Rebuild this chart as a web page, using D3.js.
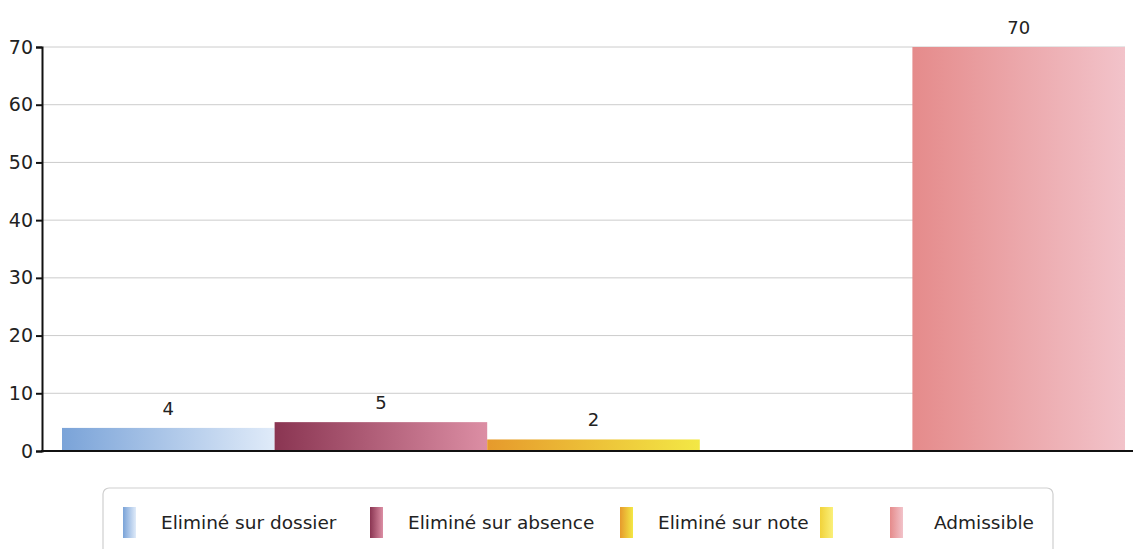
<!DOCTYPE html>
<html lang="fr">
<head>
<meta charset="UTF-8">
<title>Résultats</title>
<script src="https://cdn.jsdelivr.net/npm/d3@7/dist/d3.min.js"></script>
<style>
body{margin:0;background:#fff;font-family:"DejaVu Sans",Verdana,sans-serif}
svg{display:block}
</style>
</head>
<body>
<div id="chart"></div>
<script>
// data
var series=['Eliminé sur dossier','Eliminé sur absence','Eliminé sur note','','Admissible']
var values=[4,5,2,null,70]
var yTicks=[0,10,20,30,40,50,60,70]
var couleurs=[['#7aa3d8','#e0ebf9'],['#8a3552','#dc8ea4'],['#e69a2c','#f3e845'],['#f1d23a','#faf07a'],['#e58b8b','#f2c3ca']]

var W=1133,H=549
var margin={top:47,left:42,right:8,bottom:98}
var svg=d3.select('#chart').append('svg').attr('width',W).attr('height',H)

// gradients
var defs=svg.append('defs')
couleurs.forEach(function(c,i){
	var g=defs.append('linearGradient').attr('id','grad'+i).attr('x1','0%').attr('x2','100%').attr('y1','0%').attr('y2','0%')
	g.append('stop').attr('offset','0%').attr('stop-color',c[0])
	g.append('stop').attr('offset','100%').attr('stop-color',c[1])
})

var y=d3.scaleLinear().domain([0,70]).range([451,47])
var x=d3.scaleBand().domain(d3.range(series.length)).range([62,1125]).padding(0)

// grille
svg.append('g').selectAll('line').data(yTicks.filter(function(d){return d>0})).enter()
	.append('line')
	.attr('x1',margin.left).attr('x2',1125)
	.attr('y1',function(d){return y(d)}).attr('y2',function(d){return y(d)})
	.attr('stroke','#cccccc').attr('stroke-width',1)

// barres
var datos=series.map(function(s,i){return {nom:s,val:values[i],i:i}})
svg.append('g').selectAll('rect').data(datos.filter(function(d){return d.val!=null})).enter()
	.append('rect')
	.attr('x',function(d){return x(d.i)})
	.attr('width',x.bandwidth())
	.attr('y',function(d){return y(d.val)})
	.attr('height',function(d){return y(0)-y(d.val)})
	.attr('fill',function(d){return 'url(#grad'+d.i+')'})

// etiquettes
svg.append('g').selectAll('text').data(datos.filter(function(d){return d.val!=null})).enter()
	.append('text')
	.attr('x',function(d){return x(d.i)+x.bandwidth()/2})
	.attr('y',function(d){return y(d.val)-13})
	.attr('text-anchor','middle')
	.attr('font-size','18px')
	.attr('fill','#222')
	.text(function(d){return d.val})

// axe y
var axeY=svg.append('g').attr('transform','translate('+margin.left+',0)')
	.call(d3.axisLeft(y).tickValues(yTicks).tickSize(6).tickPadding(3))
axeY.select('.domain').attr('stroke','#111').attr('stroke-width',2)
axeY.selectAll('.tick line').attr('stroke','#111').attr('stroke-width',2)
axeY.selectAll('.tick text').attr('font-size','19px').attr('fill','#222').attr('font-family','"DejaVu Sans",sans-serif')

// axe x
svg.append('line').attr('x1',margin.left-1).attr('x2',W).attr('y1',y(0)).attr('y2',y(0))
	.attr('stroke','#111').attr('stroke-width',2)

// legende
var leg=svg.append('g')
leg.append('rect').attr('x',103).attr('y',488).attr('width',950).attr('height',80)
	.attr('rx',6).attr('fill','#fff').attr('stroke','#cfcfcf').attr('stroke-width',1.2)
var legX=[123,370,620,820,890]
var items=leg.selectAll('g.item').data(datos).enter().append('g').attr('class','item')
	.attr('transform',function(d){return 'translate('+legX[d.i]+',507)'})
items.append('rect').attr('width',13).attr('height',31)
	.attr('fill',function(d){return 'url(#grad'+d.i+')'})
items.append('text').attr('x',function(d){return d.i==4?44:38}).attr('y',22)
	.attr('font-size','18.5px').attr('fill','#222')
	.text(function(d){return d.nom})
</script>
</body>
</html>
